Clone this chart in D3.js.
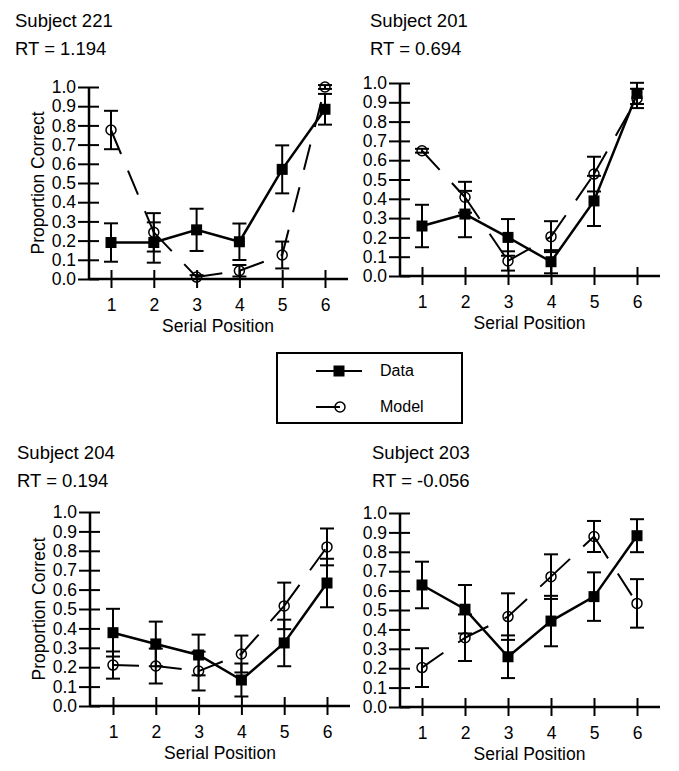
<!DOCTYPE html>
<html><head><meta charset="utf-8">
<script src="https://cdn.jsdelivr.net/npm/d3@7"></script>
<style>
body{margin:0;background:#fff;}
svg text{font-family:"Liberation Sans",Arial,Helvetica,sans-serif;fill:#000;}
</style></head><body>
<svg id="c" width="679" height="771"></svg>
<script>
// ---------- data ----------
const positions = [1, 2, 3, 4, 5, 6];
const yTickValues = [0, 0.1, 0.2, 0.3, 0.4, 0.5, 0.6, 0.7, 0.8, 0.9, 1.0];
const subjectTitles = ["Subject 221", "Subject 201", "Subject 204", "Subject 203"];
const rtLabels = ["RT = 1.194", "RT = 0.694", "RT = 0.194", "RT = -0.056"];
const seriesNames = ["Data", "Model"];

const data221 = [0.190, 0.190, 0.256, 0.194, 0.571, 0.884];
const dataErr221 = [0.100, 0.105, 0.110, 0.095, 0.125, 0.080];
const model221 = [0.776, 0.243, 0.010, 0.043, 0.125, 1.000];
const modelErr221 = [0.100, 0.100, 0.010, 0.030, 0.070, 0.010];

const data201 = [0.259, 0.321, 0.200, 0.074, 0.389, 0.946];
const dataErr201 = [0.110, 0.120, 0.095, 0.060, 0.130, 0.055];
const model201 = [0.649, 0.408, 0.078, 0.204, 0.528, 0.920];
const modelErr201 = [0.010, 0.080, 0.050, 0.080, 0.090, 0.050];

const data204 = [0.378, 0.320, 0.263, 0.134, 0.325, 0.634];
const dataErr204 = [0.123, 0.115, 0.105, 0.085, 0.120, 0.125];
const model204 = [0.211, 0.206, 0.180, 0.268, 0.516, 0.820];
const modelErr204 = [0.070, 0.090, 0.100, 0.095, 0.120, 0.095];

const data203 = [0.629, 0.504, 0.259, 0.443, 0.569, 0.883];
const dataErr203 = [0.120, 0.125, 0.110, 0.130, 0.125, 0.085];
const model203 = [0.203, 0.357, 0.466, 0.672, 0.879, 0.534];
const modelErr203 = [0.100, 0.120, 0.120, 0.115, 0.080, 0.125];

const panelData = [
  {d: data221, de: dataErr221, m: model221, me: modelErr221},
  {d: data201, de: dataErr201, m: model201, me: modelErr201},
  {d: data204, de: dataErr204, m: model204, me: modelErr204},
  {d: data203, de: dataErr203, m: model203, me: modelErr203}
];

// ---------- layout ----------
const layout = [
  {ax: 89,  y0: 279, y1: 87,  x1: 111, x6: 325, tx: 15,  ty: 27,  yTitle: true},
  {ax: 400, y0: 276, y1: 83,  x1: 422, x6: 637, tx: 370, ty: 27,  yTitle: false},
  {ax: 90,  y0: 706, y1: 512, x1: 113, x6: 327, tx: 17,  ty: 459, yTitle: true},
  {ax: 400, y0: 707, y1: 513, x1: 422, x6: 637, tx: 372, ty: 459, yTitle: false}
];

const svg = d3.select("#c");
svg.append("rect").attr("width", 679).attr("height", 771).attr("fill", "#fff");

const TICK_FS = 17.5, TITLE_FS = 18.5, LABEL_FS = 17.5;
const dashPattern = "26,18";

layout.forEach((L, i) => {
  const P = panelData[i];
  const g = svg.append("g");
  const x = d3.scaleLinear().domain([1, 6]).range([L.x1, L.x6]);
  const y = d3.scaleLinear().domain([0, 1]).range([L.y0, L.y1]);

  // titles
  g.append("text").attr("x", L.tx).attr("y", L.ty).attr("font-size", TITLE_FS).text(subjectTitles[i]);
  g.append("text").attr("x", L.tx).attr("y", L.ty + 28).attr("font-size", TITLE_FS).text(rtLabels[i]);

  // y axis
  const ya = g.append("g").attr("transform", `translate(${L.ax},0)`)
    .call(d3.axisLeft(y).tickValues(yTickValues).tickFormat(d3.format(".1f")).tickSize(11).tickPadding(2));
  ya.select(".domain").remove();
  ya.selectAll(".tick line").attr("x1", 10).attr("stroke", "#000").attr("stroke-width", 2);
  ya.selectAll(".tick text").attr("font-size", TICK_FS).attr("font-family", null);
  g.append("line").attr("x1", L.ax).attr("x2", L.ax).attr("y1", y(0)).attr("y2", y(1))
    .attr("stroke", "#000").attr("stroke-width", 2.5);

  // x axis
  const xa = g.append("g").attr("transform", `translate(0,${L.y0})`)
    .call(d3.axisBottom(x).tickValues(positions).tickFormat(d3.format("d")).tickSize(9).tickPadding(11));
  xa.select(".domain").remove();
  xa.selectAll(".tick line").attr("y1", -9).attr("stroke", "#000").attr("stroke-width", 2);
  xa.selectAll(".tick text").attr("font-size", TICK_FS).attr("font-family", null);
  g.append("line").attr("x1", L.ax).attr("x2", x(6) + 23).attr("y1", L.y0).attr("y2", L.y0)
    .attr("stroke", "#000").attr("stroke-width", 2.5);

  g.append("text").attr("x", (x(1) + x(6)) / 2).attr("y", L.y0 + 53)
    .attr("text-anchor", "middle").attr("font-size", LABEL_FS).text("Serial Position");
  if (L.yTitle) {
    g.append("text").attr("transform", `translate(${L.ax - 45},${(y(0) + y(1)) / 2}) rotate(-90)`)
      .attr("text-anchor", "middle").attr("font-size", LABEL_FS).text("Proportion Correct");
  }

  // error bars
  function errBars(means, errs) {
    const eb = g.append("g").attr("stroke", "#000").attr("stroke-width", 2);
    positions.forEach((p, k) => {
      const lo = y(Math.max(0, means[k] - errs[k])), hi = y(Math.min(1.01, means[k] + errs[k]));
      eb.append("line").attr("x1", x(p)).attr("x2", x(p)).attr("y1", lo).attr("y2", hi);
      eb.append("line").attr("x1", x(p) - 7).attr("x2", x(p) + 7).attr("y1", lo).attr("y2", lo);
      eb.append("line").attr("x1", x(p) - 7).attr("x2", x(p) + 7).attr("y1", hi).attr("y2", hi);
    });
  }
  errBars(P.d, P.de);
  errBars(P.m, P.me);

  // model dashed segments
  for (let k = 0; k < positions.length - 1; k++) {
    g.append("line")
      .attr("x1", x(positions[k])).attr("y1", y(P.m[k]))
      .attr("x2", x(positions[k + 1])).attr("y2", y(P.m[k + 1]))
      .attr("stroke", "#000").attr("stroke-width", 2).attr("stroke-dasharray", dashPattern);
  }
  // data line
  g.append("path").datum(positions.map((p, k) => [p, P.d[k]]))
    .attr("d", d3.line().x(d => x(d[0])).y(d => y(d[1])))
    .attr("fill", "none").attr("stroke", "#000").attr("stroke-width", 2.5);

  // markers
  g.selectAll(".sq").data(positions.map((p, k) => [p, P.d[k]])).join("rect")
    .attr("x", d => x(d[0]) - 5.5).attr("y", d => y(d[1]) - 5.5)
    .attr("width", 11).attr("height", 11).attr("fill", "#000");
  g.selectAll(".ci").data(positions.map((p, k) => [p, P.m[k]])).join("circle")
    .attr("cx", d => x(d[0])).attr("cy", d => y(d[1])).attr("r", 5)
    .attr("fill", "none").attr("stroke", "#000").attr("stroke-width", 1.5);
});

// legend
const lg = svg.append("g");
lg.append("rect").attr("x", 277).attr("y", 353).attr("width", 185).attr("height", 70)
  .attr("fill", "none").attr("stroke", "#000").attr("stroke-width", 2);
lg.append("line").attr("x1", 316).attr("x2", 362).attr("y1", 371).attr("y2", 371)
  .attr("stroke", "#000").attr("stroke-width", 2);
lg.append("rect").attr("x", 339 - 5.5).attr("y", 371 - 5.5).attr("width", 11).attr("height", 11).attr("fill", "#000");
lg.append("text").attr("x", 380).attr("y", 376).attr("font-size", 16).text(seriesNames[0]);
lg.append("line").attr("x1", 316).attr("x2", 340).attr("y1", 407).attr("y2", 407)
  .attr("stroke", "#000").attr("stroke-width", 2);
lg.append("circle").attr("cx", 340).attr("cy", 407).attr("r", 5)
  .attr("fill", "none").attr("stroke", "#000").attr("stroke-width", 1.5);
lg.append("text").attr("x", 380).attr("y", 412).attr("font-size", 16).text(seriesNames[1]);
</script>
</body></html>
